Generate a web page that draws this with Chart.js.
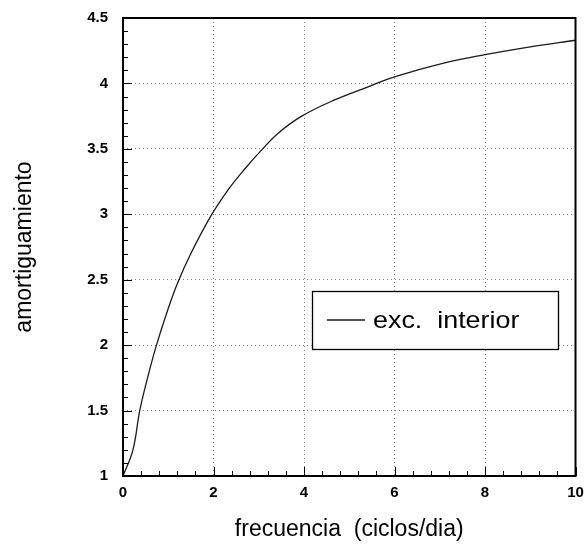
<!DOCTYPE html>
<html>
<head>
<meta charset="utf-8">
<title>amortiguamiento</title>
<script src="https://cdn.jsdelivr.net/npm/chart.js@4.4.0/dist/chart.umd.min.js"></script>
<style>
  html, body { margin: 0; padding: 0; background: #fff; }
  #wrap { width: 585px; height: 554px; }
</style>
</head>
<body>
<div id="wrap"><canvas id="grafico"></canvas></div>
<script>
// frecuencia en ciclos/dia y amortiguamiento
const frecuencia = [0, 0.22, 0.37, 0.55, 0.74, 1.0, 1.2, 1.5, 1.93, 2.33, 2.7, 3.06, 3.43, 3.95, 4.65, 5.46, 6.0, 7.15, 8.0, 9.0, 10];
const amortiguamiento = [1, 1.2, 1.5, 1.76, 2.0, 2.28, 2.47, 2.7, 2.98, 3.19, 3.35, 3.49, 3.62, 3.75, 3.87, 3.98, 4.05, 4.16, 4.22, 4.28, 4.33];

const etiquetaSerie = 'exc.  interior';
const tituloX = 'frecuencia  (ciclos/dia)';
const tituloY = 'amortiguamiento';

const fuente = '"Liberation Sans", Arial, Helvetica, sans-serif';

// marcas menores y mayores hacia adentro, marco completo y leyenda con recuadro
const marcoEjes = {
  id: 'marcoEjes',
  afterDatasetsDraw(chart) {
    const { ctx, chartArea: a, scales: { x, y } } = chart;
    ctx.save();
    ctx.strokeStyle = '#000';
    ctx.lineWidth = 1;
    ctx.beginPath();
    for (let i = 0; i <= 35; i++) {
      const py = Math.round(y.getPixelForValue(1 + i / 10)) + 0.5;
      const largo = i % 5 === 0 ? 9 : 5;
      ctx.moveTo(a.left, py);
      ctx.lineTo(a.left + largo, py);
    }
    for (let i = 0; i <= 25; i++) {
      const px = Math.round(x.getPixelForValue(i * 0.4)) + 0.5;
      const largo = i % 5 === 0 ? 9 : 5;
      ctx.moveTo(px, a.bottom);
      ctx.lineTo(px, a.bottom - largo);
    }
    ctx.stroke();

    ctx.lineWidth = 2;
    ctx.strokeRect(a.left, a.top, a.width, a.height);

    // leyenda
    const caja = { w: 246, h: 58 };
    const bx = Math.round(a.right - 18 - caja.w);
    const by = Math.round(a.top + 273);
    ctx.fillStyle = '#fff';
    ctx.fillRect(bx, by, caja.w, caja.h);
    ctx.lineWidth = 1.3;
    ctx.strokeRect(bx + 0.5, by + 0.5, caja.w, caja.h);

    const ds = chart.data.datasets[0];
    ctx.strokeStyle = ds.borderColor;
    ctx.lineWidth = ds.borderWidth;
    ctx.beginPath();
    ctx.moveTo(bx + 15, by + 29);
    ctx.lineTo(bx + 53, by + 29);
    ctx.stroke();

    ctx.fillStyle = '#000';
    ctx.font = '24px ' + fuente;
    ctx.textBaseline = 'alphabetic';
    ctx.translate(bx + 61, by + 37);
    ctx.scale(1.12, 1);
    ctx.fillText(ds.label, 0, 0);
    ctx.restore();
  }
};

new Chart(document.getElementById('grafico'), {
  type: 'scatter',
  data: {
    datasets: [{
      label: etiquetaSerie,
      data: frecuencia.map((f, i) => ({ x: f, y: amortiguamiento[i] })),
      showLine: true,
      borderColor: '#1a1a1a',
      borderWidth: 1.3,
      pointRadius: 0,
      tension: 0.4,
      fill: false
    }]
  },
  options: {
    responsive: true,
    maintainAspectRatio: false,
    animation: false,
    layout: { padding: { top: 18, right: 9.5, left: 0, bottom: 0 } },
    plugins: {
      legend: { display: false },
      tooltip: { enabled: false }
    },
    scales: {
      x: {
        type: 'linear',
        min: 0,
        max: 10,
        afterFit: (s) => { s.height = 78; s.paddingLeft = 0; s.paddingRight = 0; },
        ticks: {
          stepSize: 2,
          color: '#000',
          padding: 8,
          maxRotation: 0,
          font: { family: fuente, size: 15, weight: 'bold' }
        },
        grid: { color: 'rgba(0,0,0,0.5)', lineWidth: 1, drawTicks: false },
        border: { display: false, dash: [1, 3] },
        title: {
          display: true,
          text: tituloX,
          color: '#000',
          font: { family: fuente, size: 23 },
          padding: { bottom: 11 }
        }
      },
      y: {
        type: 'linear',
        min: 1,
        max: 4.5,
        afterFit: (s) => { s.width = 123; s.paddingTop = 0; s.paddingBottom = 0; },
        ticks: {
          stepSize: 0.5,
          color: '#000',
          padding: 15,
          font: { family: fuente, size: 15, weight: 'bold' },
          callback: (v) => String(v)
        },
        grid: { color: 'rgba(0,0,0,0.5)', lineWidth: 1, drawTicks: false },
        border: { display: false, dash: [1, 3] },
        title: {
          display: true,
          text: tituloY,
          color: '#000',
          font: { family: fuente, size: 23 },
          padding: { top: 11 }
        }
      }
    }
  },
  plugins: [marcoEjes]
});
</script>
</body>
</html>
